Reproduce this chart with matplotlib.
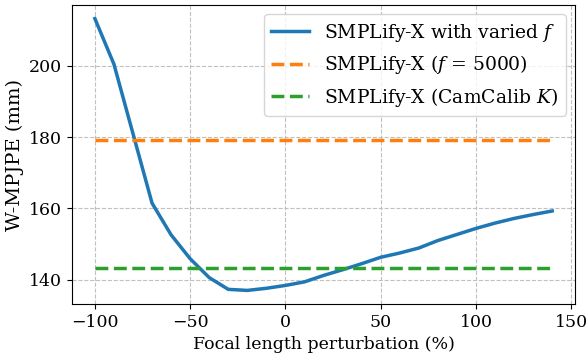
import matplotlib
matplotlib.use("Agg")
import matplotlib.pyplot as plt

perturbation = [-100, -90, -80, -70, -60, -50, -40, -30, -20, -10, 0, 10, 20,
                30, 40, 50, 60, 70, 80, 90, 100, 110, 120, 130, 140]
mpjpe_varied = [213.3, 200.5, 181.0, 161.5, 152.6, 145.9, 140.6, 137.3, 137.0,
                137.6, 138.4, 139.4, 141.2, 142.8, 144.5, 146.3, 147.5, 148.9,
                151.0, 152.7, 154.4, 155.9, 157.2, 158.3, 159.3]
mpjpe_f5000 = 179.3
mpjpe_camcalib = 143.3

labels = [r"SMPLify-X with varied $f$",
          r"SMPLify-X ($f$ = 5000)",
          r"SMPLify-X (CamCalib $K$)"]

plt.rcParams['font.family'] = ['DejaVu Serif']
plt.rcParams['mathtext.fontset'] = 'dejavuserif'
plt.rcParams['font.size'] = 12.5

fig = plt.figure(figsize=(5.87, 3.58), dpi=100)
ax = fig.add_axes([0.1227, 0.1508, 0.9796 - 0.1227, 0.986 - 0.1508])

ax.plot(perturbation, mpjpe_varied, color='#1f77b4', lw=2.5, label=labels[0])
ax.plot(perturbation, [mpjpe_f5000] * len(perturbation), color='#ff7f0e', lw=2.5,
        ls='--', label=labels[1])
ax.plot(perturbation, [mpjpe_camcalib] * len(perturbation), color='#2ca02c', lw=2.5,
        ls='--', label=labels[2])

ax.set_xticks([-100, -50, 0, 50, 100, 150])
ax.set_yticks([140, 160, 180, 200])
ax.grid(True, ls='--', color='#c0c0c0', lw=0.8)
ax.set_xlabel("Focal length perturbation (%)")
ax.set_ylabel("W-MPJPE (mm)", fontsize=14)
ax.legend(loc='upper right', fontsize=13.5)

fig.savefig("out.png", dpi=100)
